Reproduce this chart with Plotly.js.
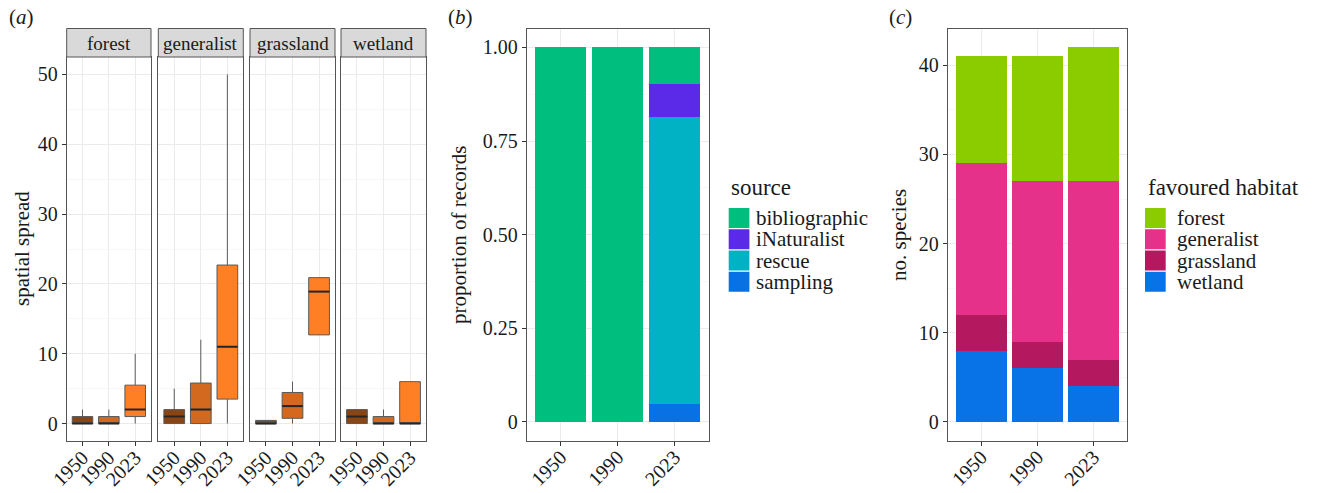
<!DOCTYPE html>
<html>
<head>
<meta charset="utf-8">
<script src="https://cdn.plot.ly/plotly-3.0.1.min.js"></script>
<style>html,body{margin:0;padding:0;background:#fff;font-family:"Liberation Serif",serif;}</style>
</head>
<body>
<div id="chart" style="width:1317px;height:493px;"></div>
<script>
// ---------- data ----------
const years = ['1950', '1990', '2023'];
const habitats = ['forest', 'generalist', 'grassland', 'wetland'];

// panel (a): box statistics per habitat, by year
const boxQ1     = { forest: [0, 0, 1],   generalist: [0, 0, 3.5],   grassland: [0, 0.75, 12.7],  wetland: [0, 0, 0] };
const boxMedian = { forest: [0, 0, 2],   generalist: [1, 2, 11],    grassland: [0, 2.5, 18.9],   wetland: [1, 0, 0] };
const boxQ3     = { forest: [1, 1, 5.5], generalist: [2, 5.8, 22.7], grassland: [0.45, 4.45, 20.9], wetland: [2, 1, 6] };
const boxLower  = { forest: [0, 0, 0],   generalist: [0, 0, 0],     grassland: [0, 0, 12.7],     wetland: [0, 0, 0] };
const boxUpper  = { forest: [2, 2, 10],  generalist: [5, 12, 50],   grassland: [0.45, 6, 20.9],  wetland: [2, 2, 6] };
const yearFill = ['#8B4513', '#D2691E', '#FF7F24'];

// panel (b): proportion of records by source (stack order bottom -> top)
const sources = ['sampling', 'rescue', 'iNaturalist', 'bibliographic'];
const sourceValues = {
  sampling:      [0, 0, 0.048],
  rescue:        [0, 0, 0.765],
  iNaturalist:   [0, 0, 0.090],
  bibliographic: [1, 1, 0.097]
};
const sourceColors = { sampling: '#0872E5', rescue: '#00B2C3', iNaturalist: '#5A2AE8', bibliographic: '#00BE7D' };

// panel (c): number of species by favoured habitat (stack order bottom -> top)
const habitatStack = ['wetland', 'grassland', 'generalist', 'forest'];
const habitatValues = {
  wetland:    [8, 6, 4],
  grassland:  [4, 3, 3],
  generalist: [17, 18, 20],
  forest:     [12, 14, 15]
};
const habitatColors = { wetland: '#0873E6', grassland: '#B4195F', generalist: '#E6318A', forest: '#8ACC00' };

// ---------- geometry helpers ----------
const W = 1317, H = 493;
const FONT = 'Liberation Serif';
const px = v => v / W;
const py = v => 1 - v / H;

const facetX = [[66.7, 151], [158.3, 243.3], [250, 335], [341, 426]];
const facetY = [py(441), py(57)];
const stripTop = 28.5, stripBottom = 57;
const bX = [px(526.7), px(708.7)], cX = [px(947.7), px(1127.3)];
const bcY = [py(440.7), py(28.7)];

const BORDER = '#555555';
const GRID = '#EBEBEB';
const MINOR = '#F4F4F4';
const INK = '#1a1a1a';
const TICKFONT = { family: FONT, size: 20, color: INK };

function xAxis(domain, anchor) {
  return {
    domain: domain, anchor: anchor, type: 'linear', range: [-0.6, 2.6],
    tickvals: [0, 1, 2], ticktext: years, tickangle: -45, ticklabelstandoff: -8,
    showgrid: true, gridcolor: GRID, gridwidth: 1, zeroline: false,
    showline: true, mirror: true, linecolor: BORDER, linewidth: 1,
    ticks: 'outside', ticklen: 4, tickcolor: '#333', tickfont: TICKFONT,
    fixedrange: true
  };
}
function yAxis(domain, anchor, range, tickvals, ticktext, minorD, showLabels) {
  return {
    domain: domain, anchor: anchor, range: range,
    tickvals: tickvals, ticktext: ticktext, showticklabels: showLabels,
    showgrid: true, gridcolor: GRID, gridwidth: 1, zeroline: false,
    minor: { dtick: minorD, tick0: 0, showgrid: true, gridcolor: MINOR, gridwidth: 0.6, ticks: '' },
    showline: true, mirror: true, linecolor: BORDER, linewidth: 1,
    ticks: showLabels ? 'outside' : '', ticklen: 4, tickcolor: '#333', tickfont: TICKFONT,
    fixedrange: true
  };
}

function buildFigure() {
  const traces = [];
  const layout = {
    width: W, height: H,
    margin: { l: 0, r: 0, t: 0, b: 0 },
    paper_bgcolor: '#ffffff', plot_bgcolor: '#ffffff',
    font: { family: FONT, color: INK },
    barmode: 'stack', bargap: 0.1,
    showlegend: false,
    shapes: [], annotations: []
  };

  // ---------- panel (a) ----------
  const BOXW = 0.78;
  habitats.forEach((h, k) => {
    const n = k + 1;
    const xa = 'x' + n, ya = 'y' + n;
    layout['xaxis' + n] = xAxis([px(facetX[k][0]), px(facetX[k][1])], ya);
    layout['yaxis' + n] = yAxis(facetY, xa, [-2.5, 52.5], [0, 10, 20, 30, 40, 50], ['0', '10', '20', '30', '40', '50'], 5, k === 0);
    years.forEach((yr, i) => {
      traces.push({
        type: 'box', xaxis: xa, yaxis: ya, x: [i], name: h + ' ' + yr,
        q1: [boxQ1[h][i]], median: [boxMedian[h][i]], q3: [boxQ3[h][i]],
        lowerfence: [boxLower[h][i]], upperfence: [boxUpper[h][i]],
        width: BOXW, whiskerwidth: 0,
        fillcolor: yearFill[i], line: { color: '#5a5a5a', width: 1 },
        showlegend: false, hoverinfo: 'skip'
      });
    });
    // emphasised median bars (ggplot style)
    const mx = [], my = [];
    years.forEach((yr, i) => {
      mx.push(i - BOXW / 2, i + BOXW / 2, null);
      my.push(boxMedian[h][i], boxMedian[h][i], null);
    });
    traces.push({
      type: 'scatter', mode: 'lines', xaxis: xa, yaxis: ya, x: mx, y: my,
      line: { color: '#262626', width: 2 }, showlegend: false, hoverinfo: 'skip'
    });
    // facet strip
    layout.shapes.push({
      type: 'rect', xref: 'paper', yref: 'paper',
      x0: px(facetX[k][0]), x1: px(facetX[k][1]), y0: py(stripBottom), y1: py(stripTop),
      fillcolor: '#D9D9D9', line: { color: BORDER, width: 1 }, layer: 'above'
    });
    layout.annotations.push({
      xref: 'paper', yref: 'paper', x: px((facetX[k][0] + facetX[k][1]) / 2), y: py((stripTop + stripBottom) / 2 + 1),
      text: h, showarrow: false, xanchor: 'center', yanchor: 'middle',
      font: { family: FONT, size: 19, color: INK }
    });
  });

  // ---------- panel (b) ----------
  layout.xaxis5 = xAxis(bX, 'y5');
  layout.yaxis5 = yAxis(bcY, 'x5', [-0.05, 1.05], [0, 0.25, 0.5, 0.75, 1], ['0', '0.25', '0.50', '0.75', '1.00'], 0.125, true);
  sources.forEach(s => {
    traces.push({
      type: 'bar', xaxis: 'x5', yaxis: 'y5', x: [0, 1, 2], y: sourceValues[s], name: s,
      marker: { color: sourceColors[s], line: { width: 0 } }, hoverinfo: 'skip'
    });
  });

  // ---------- panel (c) ----------
  layout.xaxis6 = xAxis(cX, 'y6');
  layout.yaxis6 = yAxis(bcY, 'x6', [-2.1, 44.1], [0, 10, 20, 30, 40], ['0', '10', '20', '30', '40'], 5, true);
  habitatStack.forEach(h => {
    traces.push({
      type: 'bar', xaxis: 'x6', yaxis: 'y6', x: [0, 1, 2], y: habitatValues[h], name: h,
      marker: { color: habitatColors[h], line: { width: 0 } }, hoverinfo: 'skip'
    });
  });

  // ---------- legends (ggplot-style key blocks) ----------
  function addLegend(title, names, colors, titleX, keyX, labelX) {
    layout.annotations.push({
      xref: 'paper', yref: 'paper', x: px(titleX), y: py(188), text: title,
      showarrow: false, xanchor: 'left', yanchor: 'middle',
      font: { family: FONT, size: 23, color: INK }
    });
    const top = 208, stride = 21.25, keyW = 20.7, keyH = 20;
    names.forEach((nm, i) => {
      const y0 = top + i * stride;
      layout.shapes.push({
        type: 'rect', xref: 'paper', yref: 'paper',
        x0: px(keyX), x1: px(keyX + keyW), y0: py(y0 + keyH), y1: py(y0),
        fillcolor: colors[nm], line: { width: 0 }
      });
      layout.annotations.push({
        xref: 'paper', yref: 'paper', x: px(labelX), y: py(y0 + keyH / 2), text: nm,
        showarrow: false, xanchor: 'left', yanchor: 'middle', borderpad: 0,
        font: { family: FONT, size: 21, color: INK }
      });
    });
  }
  addLegend('source', sources.slice().reverse(), sourceColors, 729, 728.7, 755);
  addLegend('favoured habitat', habitatStack.slice().reverse(), habitatColors, 1146, 1145, 1175.5);

  // ---------- axis titles & panel labels ----------
  const yTitles = [
    { text: 'spatial spread', x: 22, y: 249 },
    { text: 'proportion of records', x: 459, y: 235 },
    { text: 'no. species', x: 899, y: 235 }
  ];
  yTitles.forEach(t => layout.annotations.push({
    xref: 'paper', yref: 'paper', x: px(t.x), y: py(t.y), text: t.text, textangle: -90,
    showarrow: false, xanchor: 'center', yanchor: 'middle',
    font: { family: FONT, size: 21, color: INK }
  }));
  const panelLabels = [{ t: 'a', x: 7 }, { t: 'b', x: 446 }, { t: 'c', x: 887 }];
  panelLabels.forEach(p => layout.annotations.push({
    xref: 'paper', yref: 'paper', x: px(p.x), y: py(3), text: '(<i>' + p.t + '</i>)',
    showarrow: false, xanchor: 'left', yanchor: 'top',
    font: { family: FONT, size: 21, color: INK }
  }));

  return { traces: traces, layout: layout };
}

function draw() {
  const fig = buildFigure();
  Plotly.newPlot('chart', fig.traces, fig.layout, { staticPlot: true, displayModeBar: false });
}

draw();
// redraw once the serif font is surely available, so text is measured and shown with it
if (document.fonts && document.fonts.load) {
  Promise.all([
    document.fonts.load('20px "Liberation Serif"'),
    document.fonts.load('italic 20px "Liberation Serif"')
  ]).then(draw, function () {});
  document.fonts.ready.then(draw, function () {});
}
</script>
</body>
</html>
